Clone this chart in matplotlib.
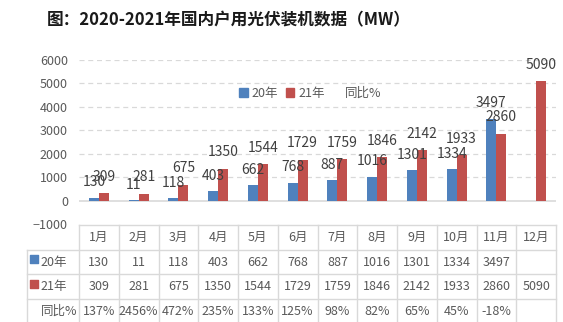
import matplotlib
matplotlib.use("Agg")
import matplotlib.pyplot as plt
from matplotlib.patches import Patch
from matplotlib.lines import Line2D

plt.rcParams['font.family'] = ['Noto Sans CJK SC', 'DejaVu Sans']

months = ['1月', '2月', '3月', '4月', '5月', '6月', '7月', '8月', '9月', '10月', '11月', '12月']
y2020 = [130, 11, 118, 403, 662, 768, 887, 1016, 1301, 1334, 3497, None]
y2021 = [309, 281, 675, 1350, 1544, 1729, 1759, 1846, 2142, 1933, 2860, 5090]
yoy = ['137%', '2456%', '472%', '235%', '133%', '125%', '98%', '82%', '65%', '45%', '-18%', '']
yticks = [-1000, 0, 1000, 2000, 3000, 4000, 5000, 6000]

blue = '#4F81BD'
red = '#C0504D'
txt = '#595959'
line_c = '#D9D9D9'

W, H = 563, 322
fig = plt.figure(figsize=(W / 100, H / 100), dpi=100)

# main chart area: x 79..556 px, y 60..224 px
ax = fig.add_axes([79 / W, 1 - 224 / H, 477 / W, 164 / H])
ax.set_xlim(-0.5, 11.5)
ax.set_ylim(-1000, 6000)
for s in ax.spines.values():
    s.set_visible(False)
ax.set_xticks([])
ax.set_yticks(yticks)
ax.tick_params(axis='y', length=0, pad=8, labelsize=9, labelcolor=txt)
for t in yticks[2:]:
    ax.axhline(t, color=line_c, lw=0.9, ls=(0, (4, 3)), zorder=0)
ax.axhline(0, color=line_c, lw=1.2, zorder=1)

bw = 0.25
xs = list(range(len(months)))
for i in xs:
    if y2020[i] is not None:
        ax.bar(i - bw / 2, y2020[i], bw, color=blue, zorder=2)
        ax.annotate(str(y2020[i]), (i - bw / 2, y2020[i]), xytext=(0, 11),
                    textcoords='offset points', ha='center', va='center',
                    fontsize=10, color='#404040', zorder=3)
    ax.bar(i + bw / 2, y2021[i], bw, color=red, zorder=2)
    ax.annotate(str(y2021[i]), (i + bw / 2, y2021[i]), xytext=(0, 12),
                textcoords='offset points', ha='center', va='center',
                fontsize=10, color='#404040', zorder=3)

handles = [Patch(color=blue), Patch(color=red), Line2D([], [], color='none')]
fig.legend(handles, ['20年', '21年', '同比%'], loc='center',
           bbox_to_anchor=(310 / W, 1 - 93 / H), ncol=3, frameon=False,
           fontsize=9, labelcolor=txt, handlelength=0.7, handleheight=0.7,
           handletextpad=0.3, columnspacing=0.6)

# title
fig.text(47 / W, 1 - 20 / H, '图：2020-2021年国内户用光伏装机数据（MW）',
         fontsize=12, fontweight='bold', color='#1a1a1a', ha='left', va='center')

# data table below chart: rows from y=225 px, ~25 px each
tax = fig.add_axes([79 / W, 1 - 324 / H, 477 / W, 99 / H])
tax.set_xlim(-0.5, 11.5)
tax.set_ylim(4, 0)
tax.axis('off')
lab_left = -0.5 - 52 / 39.75
kw = dict(color=line_c, lw=1, clip_on=False)
tax.plot([-0.5, 11.5], [0, 0], **kw)
for r in (1, 2, 3, 4):
    tax.plot([lab_left, 11.5], [r, r], **kw)
tax.plot([lab_left, lab_left], [1, 4], **kw)
for c in range(13):
    tax.plot([c - 0.5, c - 0.5], [0, 4], **kw)

rows = [('20年', blue, y2020), ('21年', red, y2021), ('同比%', None, yoy)]
for i, m in enumerate(months):
    tax.text(i, 0.5, m, ha='center', va='center', fontsize=9, color=txt, clip_on=False)
for r, (name, col, vals) in enumerate(rows, start=1):
    if col is not None:
        tax.scatter([lab_left + 0.17], [r + 0.38], marker='s', s=28, color=col, clip_on=False)
        tax.text(lab_left + 0.33, r + 0.5, name, ha='left', va='center', fontsize=9,
                 color=txt, clip_on=False)
    else:
        tax.text(-0.55, r + 0.5, name, ha='right', va='center', fontsize=9,
                 color=txt, clip_on=False)
    for i, v in enumerate(vals):
        if v is None or v == '':
            continue
        tax.text(i, r + 0.5, str(v), ha='center', va='center', fontsize=9,
                 color=txt, clip_on=False)

fig.savefig('out.png', dpi=100, facecolor='white')
